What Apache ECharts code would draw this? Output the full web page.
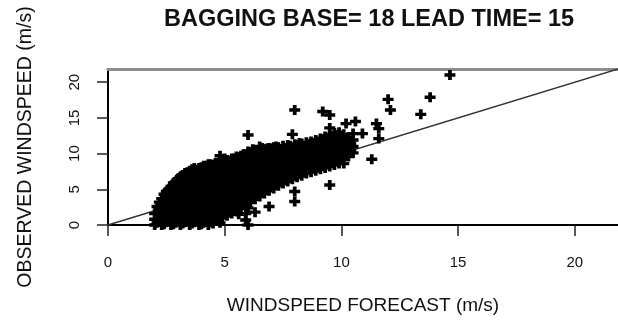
<!DOCTYPE html>
<html>
<head>
<meta charset="utf-8">
<script src="https://cdn.jsdelivr.net/npm/echarts@6/dist/echarts.min.js"></script>
<style>html,body{margin:0;padding:0;background:#fff}#c{width:618px;height:320px}</style>
</head>
<body>
<div id="c"></div>
<script>
// Forecast (x) value of each column of points and the observed (y) values in that column
const forecastCols = [
  2.0, 2.1, 2.3, 2.5, 2.7, 2.9, 3.1, 3.3, 3.5, 3.7, 3.9, 4.1, 4.3, 4.5, 4.7, 4.8, 4.9,
  5.1, 5.3, 5.5, 5.7, 5.9, 6.0, 6.1, 6.3, 6.5, 6.7, 6.9, 7.1, 7.3, 7.5, 7.7, 7.9, 8.0,
  8.1, 8.3, 8.5, 8.7, 8.9, 9.1, 9.2, 9.3, 9.5, 9.7, 9.9, 10.1, 10.2, 10.3, 10.5, 10.6,
  10.9, 11.3, 11.5, 11.6, 12.0, 12.1, 13.4, 13.8, 14.65
];
const observedCols = [
  [0, 0.8, 1.6],
  [0.3, 2.6],
  [0, 1.0, 1.9, 2.8, 3.7],
  [0.4, 1.3, 2.2, 3.1, 4.0, 4.7],
  [0, 0.9, 1.8, 2.7, 3.6, 4.5, 5.4],
  [0.3, 1.2, 2.1, 3.0, 3.9, 4.8, 5.7, 6.1],
  [0, 0.9, 1.8, 2.7, 3.6, 4.5, 5.4, 6.3, 6.8],
  [0.4, 1.3, 2.2, 3.1, 4.0, 4.9, 5.8, 6.7, 7.3],
  [0, 0.8, 1.7, 2.6, 3.5, 4.4, 5.3, 6.2, 7.1, 7.6],
  [0.4, 1.3, 2.2, 3.1, 4.0, 4.9, 5.8, 6.7, 7.5, 8.0],
  [0, 0.9, 1.8, 2.7, 3.6, 4.5, 5.4, 6.3, 7.2, 8.0],
  [0.3, 1.2, 2.1, 3.0, 3.9, 4.8, 5.7, 6.6, 7.5, 8.3],
  [0, 0.8, 1.7, 2.6, 3.5, 4.4, 5.3, 6.2, 7.1, 8.0, 8.5],
  [0.2, 1.2, 2.1, 3.0, 3.9, 4.8, 5.7, 6.6, 7.5, 8.4],
  [0.6, 1.5, 2.4, 3.3, 4.2, 5.1, 6.0, 6.9, 7.8, 8.7],
  [9.7],
  [1.0, 1.9, 2.8, 3.7, 4.6, 5.5, 6.4, 7.3, 8.2, 8.9],
  [1.3, 2.2, 3.1, 4.0, 4.9, 5.8, 6.7, 7.6, 8.5, 9.1],
  [1.6, 2.5, 3.4, 4.3, 5.2, 6.1, 7.0, 7.9, 8.8, 9.3],
  [1.9, 2.8, 3.7, 4.6, 5.5, 6.4, 7.3, 8.2, 9.1, 9.6],
  [2.5, 3.4, 4.3, 5.2, 6.1, 7.0, 7.9, 8.8, 9.7],
  [0.7, 1.6, 2.8, 3.7, 4.6, 5.5, 6.4, 7.3, 8.2, 9.1, 9.9],
  [0, 2.4, 12.6],
  [3.2, 4.1, 5.0, 5.9, 6.8, 7.7, 8.6, 9.5, 10.2],
  [1.8, 3.6, 4.5, 5.4, 6.3, 7.2, 8.1, 9.0, 9.9, 10.5],
  [4.0, 4.9, 5.8, 6.7, 7.6, 8.5, 9.4, 10.3, 11.0],
  [4.4, 5.3, 6.2, 7.1, 8.0, 8.9, 9.8, 10.6],
  [2.6, 4.8, 5.7, 6.6, 7.5, 8.4, 9.3, 10.2, 10.8],
  [5.1, 6.0, 6.9, 7.8, 8.7, 9.6, 10.5, 10.9],
  [5.5, 6.4, 7.3, 8.2, 9.1, 10.0, 10.9],
  [5.8, 6.7, 7.6, 8.5, 9.4, 10.3, 11.1],
  [6.1, 7.0, 7.9, 8.8, 9.7, 10.6, 11.2],
  [6.4, 7.3, 8.2, 9.1, 10.0, 10.9, 12.7],
  [3.3, 4.7, 16.1],
  [6.7, 7.6, 8.5, 9.4, 10.3, 11.2],
  [6.9, 7.8, 8.7, 9.6, 10.5, 11.4],
  [7.2, 8.1, 9.0, 9.9, 10.8, 11.6],
  [7.4, 8.3, 9.2, 10.1, 11.0, 11.7],
  [7.6, 8.5, 9.4, 10.3, 11.2, 11.9],
  [7.8, 8.7, 9.6, 10.5, 11.4, 12.1],
  [15.9],
  [8.0, 8.9, 9.8, 10.7, 11.6, 12.4],
  [5.6, 8.2, 9.1, 10.0, 10.9, 11.8, 12.7, 13.6, 15.4],
  [8.4, 9.3, 10.2, 11.1, 12.0, 12.9],
  [8.6, 9.5, 10.4, 11.3, 12.2, 13.0],
  [8.6, 9.2, 10.1, 11.0, 11.9, 12.7],
  [14.2],
  [9.6, 10.5, 11.4, 12.3],
  [10.1, 11.0, 11.9, 12.8],
  [14.5],
  [12.8],
  [9.2],
  [14.2],
  [12.1, 13.5],
  [17.6],
  [16.1],
  [15.5],
  [17.9],
  [21.0]
];
// Second set of columns filling the dense core of the cloud
const forecastColsB = [
  2.2, 2.4, 2.6, 2.8, 3.0, 3.2, 3.4, 3.6, 3.8, 4.0, 4.2, 4.4, 4.6, 4.8, 5.0, 5.2,
  5.4, 5.6, 5.8, 6.0, 6.2, 6.4, 6.6, 6.8, 7.0, 7.2, 7.4, 7.6, 7.8, 8.0, 8.2, 8.4,
  8.6, 8.8, 9.0, 9.2, 9.4, 9.6, 9.8, 10.0, 10.2, 10.4
];
const observedColsB = [
  [0.5, 1.4, 2.3, 3.2],
  [0.1, 1.7, 2.6, 3.5, 4.3],
  [0.6, 1.5, 2.4, 3.3, 4.2, 5.0],
  [0.1, 1.0, 1.9, 2.8, 3.7, 4.6, 5.5, 5.9],
  [0.6, 1.5, 2.4, 3.3, 4.2, 5.1, 6.0, 6.5],
  [0.2, 1.1, 2.0, 2.9, 3.8, 4.7, 5.6, 6.5, 7.0],
  [0.6, 1.5, 2.4, 3.3, 4.2, 5.1, 6.0, 6.9, 7.4],
  [0.2, 1.1, 2.0, 2.9, 3.8, 4.7, 5.6, 6.5, 7.3, 7.8],
  [0.6, 1.5, 2.4, 3.3, 4.2, 5.1, 6.0, 6.9, 7.7],
  [0.1, 1.0, 1.9, 2.8, 3.7, 4.6, 5.5, 6.4, 7.3, 8.1],
  [0.6, 1.5, 2.4, 3.3, 4.2, 5.1, 6.0, 6.9, 7.8, 8.3],
  [0.4, 1.3, 2.2, 3.1, 4.0, 4.9, 5.8, 6.7, 7.6, 8.5],
  [0.9, 1.8, 2.7, 3.6, 4.5, 5.4, 6.3, 7.2, 8.1, 8.7],
  [0.3, 1.2, 2.1, 3.0, 3.9, 4.8, 5.7, 6.6, 7.5, 8.4, 9.0],
  [1.5, 2.4, 3.3, 4.2, 5.1, 6.0, 6.9, 7.8, 8.7, 9.3],
  [1.8, 2.7, 3.6, 4.5, 5.4, 6.3, 7.2, 8.1, 9.0],
  [2.1, 3.0, 3.9, 4.8, 5.7, 6.6, 7.5, 8.4, 9.3],
  [1.5, 2.3, 3.2, 4.1, 5.0, 5.9, 6.8, 7.7, 8.6, 9.5],
  [2.9, 3.8, 4.7, 5.6, 6.5, 7.4, 8.3, 9.2, 9.9],
  [3.4, 4.3, 5.2, 6.1, 7.0, 7.9, 8.8, 9.7, 10.3],
  [3.6, 4.5, 5.4, 6.3, 7.2, 8.1, 9.0, 9.9, 10.6],
  [4.1, 5.0, 5.9, 6.8, 7.7, 8.6, 9.5, 10.4],
  [4.6, 5.5, 6.4, 7.3, 8.2, 9.1, 10.0, 10.8],
  [4.9, 5.8, 6.7, 7.6, 8.5, 9.4, 10.3, 10.7],
  [5.4, 6.3, 7.2, 8.1, 9.0, 9.9, 10.7],
  [5.7, 6.6, 7.5, 8.4, 9.3, 10.2, 11.0],
  [6.1, 7.0, 7.9, 8.8, 9.7, 10.6],
  [6.3, 7.2, 8.1, 9.0, 9.9, 10.8],
  [6.6, 7.5, 8.4, 9.3, 10.2, 11.1],
  [6.9, 7.8, 8.7, 9.6, 10.5, 11.3],
  [7.1, 8.0, 8.9, 9.8, 10.7, 11.5],
  [7.4, 8.3, 9.2, 10.1, 11.0],
  [7.7, 8.6, 9.5, 10.4, 11.3],
  [7.9, 8.8, 9.7, 10.6, 11.5],
  [8.1, 9.0, 9.9, 10.8, 11.7],
  [8.4, 9.3, 10.2, 11.1, 12.0],
  [8.6, 9.5, 10.4, 11.3, 12.2],
  [8.8, 9.7, 10.6, 11.5, 12.4],
  [9.0, 9.9, 10.8, 11.7, 12.6],
  [9.2, 10.1, 11.0, 11.9],
  [9.9, 10.8, 11.7],
  [10.5, 11.4]
];
// Reference line y = x
const identityLine = [[0, 0], [25, 25]];
const xTickValues = [0, 5, 10, 15, 20];
const yTickValues = [0, 5, 10, 15, 20];
const axisMax = 21.85;

const points = [];
forecastCols.forEach((fx, i) => {
  observedCols[i].forEach(oy => points.push([fx, oy]));
});
forecastColsB.forEach((fx, i) => {
  observedColsB[i].forEach(oy => points.push([fx, oy]));
});

const FONT = 'Liberation Sans';
const chart = echarts.init(document.getElementById('c'), null, {renderer: 'canvas'});
chart.setOption({
  animation: false,
  backgroundColor: '#ffffff',
  title: {
    text: 'BAGGING BASE= 18 LEAD TIME= 15',
    left: 369, top: 8, padding: 0, textAlign: 'center',
    textStyle: {fontFamily: FONT, fontWeight: 'bold', fontSize: 23.5, color: '#111'}
  },
  grid: {left: 108, top: 69, right: 0, bottom: 95, containLabel: false},
  xAxis: [{
    type: 'value', min: 0, max: axisMax, interval: 5,
    name: 'WINDSPEED FORECAST (m/s)', nameLocation: 'middle', nameGap: 71,
    nameTextStyle: {fontFamily: FONT, fontSize: 19, color: '#111'},
    axisLine: {show: true, onZero: false, lineStyle: {color: '#000', width: 2}},
    axisTick: {show: true, length: 11, customValues: xTickValues, lineStyle: {color: '#222', width: 1.5}},
    axisLabel: {margin: 30, customValues: xTickValues, fontFamily: FONT, fontSize: 15, color: '#111'},
    splitLine: {show: false}
  }, {
    type: 'value', position: 'top', min: 0, max: axisMax,
    axisLine: {show: true, onZero: false, lineStyle: {color: '#8c8c8c', width: 3}},
    axisTick: {show: false}, axisLabel: {show: false}, splitLine: {show: false}
  }],
  yAxis: {
    type: 'value', min: 0, max: axisMax, interval: 5,
    name: 'OBSERVED WINDSPEED (m/s)', nameLocation: 'middle', nameGap: 72,
    nameTextStyle: {fontFamily: FONT, fontSize: 19.5, color: '#111'},
    axisLine: {show: true, onZero: false, lineStyle: {color: '#000', width: 2}},
    axisTick: {show: true, length: 11, customValues: yTickValues, lineStyle: {color: '#222', width: 1.5}},
    axisLabel: {margin: 26, rotate: 90, customValues: yTickValues, fontFamily: FONT, fontSize: 15, color: '#111'},
    splitLine: {show: false}
  },
  series: [{
    type: 'line', data: identityLine, symbol: 'none', silent: true, clip: true,
    lineStyle: {color: '#333', width: 1.5}, z: 1
  }, {
    type: 'scatter', data: points, silent: true,
    symbol: 'path://M3.3,0H6.7V3.3H10V6.7H6.7V10H3.3V6.7H0V3.3H3.3Z',
    symbolSize: [11, 10],
    itemStyle: {color: '#000', opacity: 1}, z: 2
  }]
});
</script>
</body>
</html>
